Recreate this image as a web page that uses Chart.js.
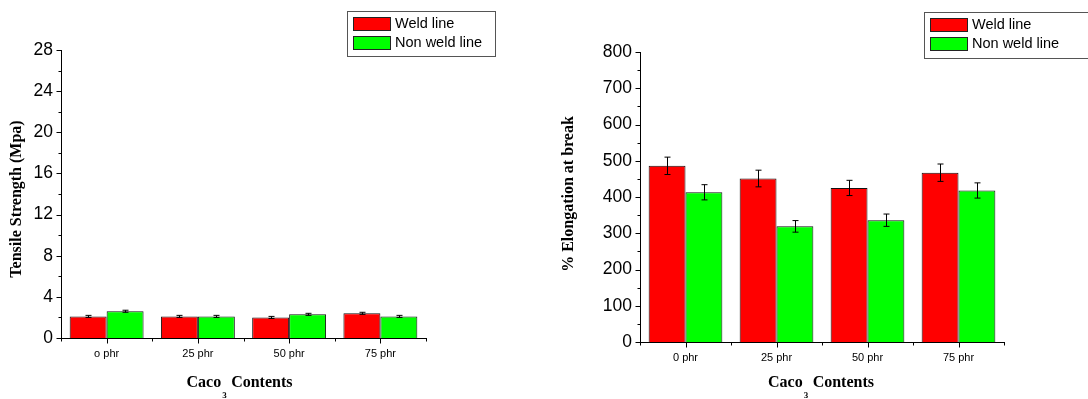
<!DOCTYPE html>
<html>
<head>
<meta charset="utf-8">
<script src="https://cdn.jsdelivr.net/npm/chart.js@4.4.0/dist/chart.umd.min.js"></script>
<style>
  body { margin: 0; background: #fff; }
  .panel { position: absolute; top: 0; width: 544px; height: 399px; }
  #leftPanel { left: 0; }
  #rightPanel { left: 544px; }
</style>
</head>
<body>
<div class="panel" id="leftPanel"><canvas id="tensileChart" width="544" height="399"></canvas></div>
<div class="panel" id="rightPanel"><canvas id="elongationChart" width="544" height="399"></canvas></div>
<script>
// data
const tensileLabels = ['o phr', '25 phr', '50 phr', '75 phr'];
const tensileWeld = [2.1, 2.1, 2.0, 2.4];
const tensileWeldErr = [0.1, 0.1, 0.1, 0.1];
const tensileNonWeld = [2.6, 2.1, 2.3, 2.1];
const tensileNonWeldErr = [0.1, 0.1, 0.1, 0.1];

const elongLabels = ['0 phr', '25 phr', '50 phr', '75 phr'];
const elongWeld = [486, 451, 425, 467];
const elongWeldErr = [24, 23, 21, 24];
const elongNonWeld = [413, 319, 336, 418];
const elongNonWeldErr = [21, 16, 17, 21];

const RED = '#ff0000';
const GREEN = '#00ff00';
const SANS = '"Liberation Sans", Arial, sans-serif';
const SERIF = '"Liberation Serif", "Times New Roman", serif';

Chart.defaults.devicePixelRatio = 1;
Chart.defaults.animation = false;

// error bars, axis ticks, titles and boxed legend
const decorPlugin = {
    id: 'decor',
    afterDatasetsDraw(chart, args, opts) {
        const ctx = chart.ctx;
        const xs = chart.scales.x, ys = chart.scales.y;
        const area = chart.chartArea;
        ctx.save();

        // error bars
        ctx.strokeStyle = '#000';
        ctx.lineWidth = 1;
        chart.data.datasets.forEach((ds, di) => {
            const meta = chart.getDatasetMeta(di);
            meta.data.forEach((bar, i) => {
                const v = ds.data[i], e = ds.errors[i];
                const x = Math.round(bar.x) + 0.5;
                const yt = ys.getPixelForValue(v + e);
                const yb = ys.getPixelForValue(v - e);
                ctx.beginPath();
                ctx.moveTo(x, yt); ctx.lineTo(x, yb);
                ctx.moveTo(x - 3, yt); ctx.lineTo(x + 3, yt);
                ctx.moveTo(x - 3, yb); ctx.lineTo(x + 3, yb);
                ctx.stroke();
            });
        });

        // y ticks (major + minor), outward
        const ax = Math.round(area.left) + 0.5;
        for (let v = ys.min; v <= ys.max + 1e-9; v += opts.minorStep) {
            const y = Math.round(ys.getPixelForValue(v)) + 0.5;
            const major = Math.abs(v / opts.majorStep - Math.round(v / opts.majorStep)) < 1e-6;
            ctx.beginPath();
            ctx.moveTo(ax, y);
            ctx.lineTo(ax - (major ? 5 : 3), y);
            ctx.stroke();
        }
        // x ticks: centers and boundaries
        const by = Math.round(area.bottom) + 0.5;
        const n = chart.data.labels.length;
        for (let i = 0; i < n; i++) {
            const x = Math.round(xs.getPixelForValue(i)) + 0.5;
            ctx.beginPath(); ctx.moveTo(x, by); ctx.lineTo(x, by + 5); ctx.stroke();
        }
        for (let i = 0; i <= n; i++) {
            const x = Math.round(xs.getPixelForValue(i - 0.5)) + 0.5;
            ctx.beginPath(); ctx.moveTo(x, by); ctx.lineTo(x, by + 3); ctx.stroke();
        }

        // y axis title
        ctx.fillStyle = '#000';
        ctx.font = 'bold 16px ' + SERIF;
        ctx.textAlign = 'center';
        ctx.textBaseline = 'middle';
        ctx.save();
        ctx.translate(opts.yTitleX, (area.top + area.bottom) / 2 + opts.yTitleShift);
        ctx.rotate(-Math.PI / 2);
        ctx.fillText(opts.yTitle, 0, 0);
        ctx.restore();

        // x axis title: Caco_3 Contents
        ctx.textAlign = 'left';
        ctx.textBaseline = 'alphabetic';
        ctx.font = 'bold 16px ' + SERIF;
        const w1 = ctx.measureText('Caco').width;
        const w2 = ctx.measureText('Contents').width;
        const gap = 10;
        const cx = (area.left + area.right) / 2 + opts.xTitleShift;
        const x0 = cx - (w1 + gap + w2) / 2;
        ctx.fillText('Caco', x0, 387);
        ctx.fillText('Contents', x0 + w1 + gap, 387);
        ctx.font = 'bold 9px ' + SERIF;
        ctx.fillText('3', x0 + w1 + 1, 398);

        // legend box
        const lg = opts.legend;
        ctx.fillStyle = '#fff';
        ctx.fillRect(lg.x, lg.y, lg.w, lg.h);
        ctx.strokeStyle = '#555';
        ctx.lineWidth = 1;
        ctx.strokeRect(lg.x + 0.5, lg.y + 0.5, lg.w, lg.h);
        chart.data.datasets.forEach((ds, di) => {
            const sy = lg.y + 6 + di * 19;
            ctx.fillStyle = ds.backgroundColor;
            ctx.fillRect(lg.x + 6, sy, 37, 13);
            ctx.strokeStyle = '#222';
            ctx.strokeRect(lg.x + 6.5, sy + 0.5, 37, 13);
            ctx.fillStyle = '#000';
            ctx.font = '14.5px ' + SANS;
            ctx.textBaseline = 'middle';
            ctx.fillText(ds.label, lg.x + 48, sy + 7);
        });
        ctx.restore();
    }
};

function createBarChart(canvasId, labels, weld, weldErr, nonWeld, nonWeldErr, cfg) {
    const ctx = document.getElementById(canvasId).getContext('2d');
    return new Chart(ctx, {
        type: 'bar',
        data: {
            labels: labels,
            datasets: [
                { label: 'Weld line', data: weld, errors: weldErr, backgroundColor: RED,
                  borderColor: '#111', borderWidth: 1, barPercentage: 1, categoryPercentage: 0.81 },
                { label: 'Non weld line', data: nonWeld, errors: nonWeldErr, backgroundColor: GREEN,
                  borderColor: '#111', borderWidth: 1, barPercentage: 1, categoryPercentage: 0.81 }
            ]
        },
        options: {
            responsive: false,
            layout: { padding: { left: 0, top: cfg.top, right: cfg.right, bottom: 0 } },
            plugins: {
                legend: { display: false },
                tooltip: { enabled: false },
                decor: cfg.decor
            },
            scales: {
                x: {
                    grid: { display: false, drawTicks: false },
                    border: { display: true, color: '#000', width: 1 },
                    ticks: { color: '#000', padding: 9, font: { family: SANS, size: 11 } },
                    afterFit: s => { s.height = cfg.xHeight; }
                },
                y: {
                    min: 0, max: cfg.max,
                    grid: { display: false, drawTicks: false },
                    border: { display: true, color: '#000', width: 1 },
                    ticks: { stepSize: cfg.step, color: '#000', padding: 8, font: { family: SANS, size: 17.5 } },
                    afterFit: s => { s.width = cfg.yWidth; }
                }
            }
        },
        plugins: [decorPlugin]
    });
}

createBarChart('tensileChart', tensileLabels, tensileWeld, tensileWeldErr, tensileNonWeld, tensileNonWeldErr, {
    max: 28, step: 4, top: 50, right: 118, yWidth: 61, xHeight: 61,
    decor: { majorStep: 4, minorStep: 2, yTitle: 'Tensile Strength (Mpa)', yTitleX: 17, yTitleShift: 5,
             xTitleShift: -4, legend: { x: 347, y: 11, w: 148, h: 45 } }
});

createBarChart('elongationChart', elongLabels, elongWeld, elongWeldErr, elongNonWeld, elongNonWeldErr, {
    max: 800, step: 100, top: 52, right: 84, yWidth: 96, xHeight: 57,
    decor: { majorStep: 100, minorStep: 50, yTitle: '% Elongation at break', yTitleX: 25, yTitleShift: -3,
             xTitleShift: -1, legend: { x: 380, y: 12, w: 170, h: 46 } }
});
</script>
</body>
</html>
